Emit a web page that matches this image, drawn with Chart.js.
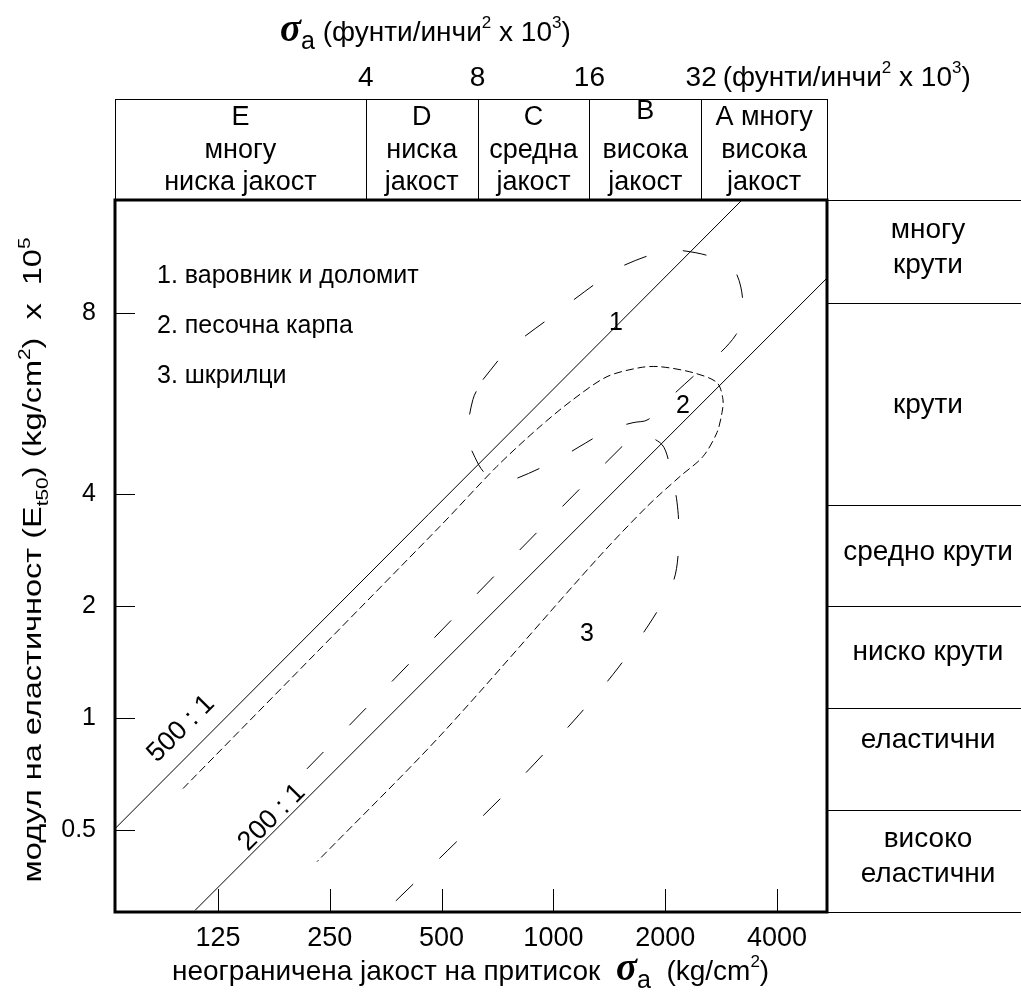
<!DOCTYPE html>
<html>
<head>
<meta charset="utf-8">
<script src="https://cdn.jsdelivr.net/npm/chart.js@4.4.1/dist/chart.umd.min.js"></script>
<style>
  html, body { margin: 0; padding: 0; background: #fff; }
  #wrap { width: 1021px; height: 996px; position: relative; }
</style>
</head>
<body>
<div id="wrap"><canvas id="myChart"></canvas></div>
<script>
// x: σa (kg/cm2), y: E_t50 (x 10^5 kg/cm2), both log scales
const xRange = [66, 5454];
const yRange = [0.303, 24.83];
const xTicks = [125, 250, 500, 1000, 2000, 4000];
const yTickPos = [0.5, 1, 2, 4, 12.34]; // the "8" label sits higher in the original figure
const yTickLabels = ["0.5", "1", "2", "4", "8"];

// modulus ratio lines
const line500x = [66, 3220];
const line500y = [0.503, 24.83];
const line200x = [108.4, 5454];
const line200y = [0.303, 15.3];

// 1. limestone & dolomite envelope (closed)
const limeX = [646, 754, 849, 1022, 1143, 1377, 1558, 1960, 2261, 2810, 3121, 3240, 3102, 2641, 2376, 1997, 1798, 1638, 1420, 1165, 1029, 798, 732, 659, 615, 589, 607, 646];
const limeY = [8.15, 9.82, 10.77, 12.34, 13.45, 15.4, 16.6, 18.0, 18.1, 17.1, 15.6, 12.34, 10.77, 9.06, 8.30, 7.07, 6.36, 6.24, 5.98, 5.35, 4.97, 4.42, 4.34, 4.53, 5.03, 5.73, 7.2, 8.15];

// 2. sandstone envelope
const sandX = [100.6, 495, 705, 920, 1129, 1394, 1711, 1936, 2376, 2757, 2862, 2844, 2757, 2529, 2192, 1787, 1311, 495, 231];
const sandY = [0.645, 3.28, 4.76, 6.09, 7.2, 8.30, 8.78, 8.83, 8.51, 8.0, 7.2, 6.64, 5.87, 5.06, 4.47, 3.71, 2.68, 0.894, 0.410];

// 3. shale envelope
const shaleX = [217, 1530, 1732, 1960, 2060, 2152, 2178, 2112, 1855, 1493, 1172, 823, 480, 341];
const shaleY = [0.729, 5.38, 5.76, 5.45, 4.76, 3.81, 3.03, 2.36, 1.857, 1.363, 1.019, 0.694, 0.407, 0.292];

// strength classes (top band), boundaries in kg/cm2
const strengthBounds = [312.5, 625, 1250, 2500];
const psiLabels = ["4", "8", "16", "32"];
const strengthClasses = [
  ["E", "многу", "ниска јакост"],
  ["D", "ниска", "јакост"],
  ["C", "средна", "јакост"],
  ["B", "висока", "јакост"],
  ["A многу", "висока", "јакост"],
];

// modulus classes (right band), boundaries in 10^5 kg/cm2
const modBounds = [13.1, 3.74, 2.0, 1.06, 0.566];
const modClasses = [["многу", "крути"], ["крути"], ["средно крути"], ["ниско крути"], ["еластични"], ["високо", "еластични"]];
const modShift = [-5, 0, -5, -6, -20, -5];

const legendItems = ["1. варовник и доломит", "2. песочна карпа", "3. шкрилци"];
const groupLabels = [{ t: "1", x: 1474, y: 11.6 }, { t: "2", x: 2234, y: 6.9 }, { t: "3", x: 1232, y: 1.68 }];
const ratioLabels = [{ t: "500 : 1", x: 99.4, y: 0.934 }, { t: "200 : 1", x: 174.7, y: 0.539 }];

const FONT = "'Liberation Sans', Arial, sans-serif";
const pts = (xs, ys) => xs.map((v, i) => ({ x: v, y: ys[i] }));

const datasets = [
  { data: pts(line500x, line500y), borderWidth: 1, tension: 0 },
  { data: pts(line200x, line200y), borderWidth: 1, tension: 0 },
  { data: pts(limeX, limeY), borderWidth: 1, tension: 0.35, borderDash: [24, 37] },
  { data: pts(sandX, sandY), borderWidth: 1, tension: 0.3, borderDash: [8, 4] },
  { data: pts(shaleX, shaleY), borderWidth: 1, tension: 0.3, borderDash: [24, 37] },
].map(d => ({ ...d, showLine: true, pointRadius: 0, borderColor: "#000", fill: false }));

function drawRich(ctx, x, y, segs, size, align) {
  const fontFor = k => {
    if (k === "sup" || k === "sub") return `${Math.round(size * 0.62)}px ${FONT}`;
    if (k === "sig") return `bold italic ${Math.round(size * 1.4)}px 'Liberation Serif', serif`;
    if (k === "idx") return `${Math.round(size * 0.9)}px ${FONT}`;
    return `${size}px ${FONT}`;
  };
  let w = 0;
  segs.forEach(([t, k]) => { ctx.font = fontFor(k); w += ctx.measureText(t).width; });
  let cx = align === "center" ? x - w / 2 : x;
  ctx.textAlign = "left";
  ctx.textBaseline = "alphabetic";
  segs.forEach(([t, k]) => {
    ctx.font = fontFor(k);
    let dy = 0;
    if (k === "sub") dy = size * 0.28;
    if (k === "sup") dy = -size * 0.45;
    if (k === "idx") dy = size * 0.3;
    ctx.fillText(t, cx, y + dy);
    cx += ctx.measureText(t).width;
  });
}

const drawPlugin = {
  id: "deereMiller",
  afterDraw(chart) {
    const { ctx, chartArea: a } = chart;
    const xs = chart.scales.x, ys = chart.scales.y;
    const W = chart.width;
    const snap = v => Math.round(v) + 0.5;
    ctx.save();
    ctx.strokeStyle = "#000";
    ctx.fillStyle = "#000";

    // inner tick marks
    ctx.lineWidth = 1;
    ctx.beginPath();
    xTicks.forEach(v => { const p = snap(xs.getPixelForValue(v)); ctx.moveTo(p, a.bottom); ctx.lineTo(p, a.bottom - 23); });
    yTickPos.forEach(v => { const p = snap(ys.getPixelForValue(v)); ctx.moveTo(a.left, p); ctx.lineTo(a.left + 20, p); });
    ctx.stroke();

    // top band with strength classes
    const bandTop = 99;
    const cols = [a.left, ...strengthBounds.map(v => xs.getPixelForValue(v)), a.right];
    ctx.beginPath();
    ctx.moveTo(a.left, bandTop + 0.5); ctx.lineTo(a.right, bandTop + 0.5);
    cols.forEach(p => { ctx.moveTo(snap(p), bandTop); ctx.lineTo(snap(p), a.top); });
    ctx.stroke();
    ctx.font = `27px ${FONT}`;
    ctx.textAlign = "center";
    ctx.textBaseline = "alphabetic";
    strengthClasses.forEach((lines, i) => {
      const cx = (cols[i] + cols[i + 1]) / 2;
      lines.forEach((s, j) => ctx.fillText(s, cx, 125 + j * 32.5 - (i === 3 && j === 0 ? 6 : 0)));
    });
    psiLabels.forEach((s, i) => {
      const p = xs.getPixelForValue(strengthBounds[i]);
      ctx.font = `28px ${FONT}`;
      ctx.textAlign = "center";
      ctx.fillText(s, p, 86);
      if (i === psiLabels.length - 1) {
        const hw = ctx.measureText(s).width / 2;
        drawRich(ctx, p + hw + 6, 86, [["(фунти/инчи", ""], ["2", "sup"], [" x 10", ""], ["3", "sup"], [")", ""]], 28, "left");
      }
    });
    drawRich(ctx, 280, 41, [["σ", "sig"], ["a", "idx"], [" (фунти/инчи", ""], ["2", "sup"], [" x 10", ""], ["3", "sup"], [")", ""]], 28, "left");

    // right band with modulus classes
    const rows = [a.top, ...modBounds.map(v => ys.getPixelForValue(v)), a.bottom];
    ctx.beginPath();
    rows.forEach(p => { ctx.moveTo(a.right, snap(p)); ctx.lineTo(W, snap(p)); });
    ctx.stroke();
    ctx.font = `28px ${FONT}`;
    ctx.textAlign = "center";
    modClasses.forEach((lines, i) => {
      const cy = (rows[i] + rows[i + 1]) / 2 + modShift[i];
      lines.forEach((s, j) => ctx.fillText(s, 928, cy + 9 + (j - (lines.length - 1) / 2) * 35));
    });

    // plot frame
    ctx.lineWidth = 3;
    ctx.strokeRect(a.left, a.top, a.right - a.left, a.bottom - a.top);

    // texts inside the plot
    ctx.font = `25px ${FONT}`;
    ctx.textAlign = "left";
    legendItems.forEach((s, i) => ctx.fillText(s, a.left + 42, 283 + i * 50));
    ctx.textAlign = "center";
    ctx.textBaseline = "middle";
    groupLabels.forEach(g => ctx.fillText(g.t, xs.getPixelForValue(g.x), ys.getPixelForValue(g.y)));
    ctx.font = `27px ${FONT}`;
    ratioLabels.forEach(g => {
      ctx.save();
      ctx.translate(xs.getPixelForValue(g.x), ys.getPixelForValue(g.y));
      ctx.rotate(-Math.PI / 4);
      ctx.fillText(g.t, 0, 0);
      ctx.restore();
    });

    // axis titles
    drawRich(ctx, 172, 980, [["неограничена јакост на притисок  ", ""], ["σ", "sig"], ["a", "idx"], ["  (kg/cm", ""], ["2", "sup"], [")", ""]], 28, "left");
    ctx.save();
    ctx.translate(41, 560);
    ctx.rotate(-Math.PI / 2);
    ctx.scale(1.3, 1);
    drawRich(ctx, 0, 0, [["модул на еластичност (E", ""], ["t50", "sub"], [") (kg/cm", ""], ["2", "sup"], [")  x  10", ""], ["5", "sup"]], 25, "center");
    ctx.restore();
    ctx.restore();
  }
};

new Chart(document.querySelector("#myChart"), {
  type: "scatter",
  data: { datasets },
  options: {
    responsive: true,
    maintainAspectRatio: false,
    animation: false,
    layout: { padding: { left: 0, right: 194, top: 200, bottom: 0 } },
    plugins: { legend: { display: false }, tooltip: { enabled: false } },
    scales: {
      x: {
        type: "logarithmic",
        min: xRange[0],
        max: xRange[1],
        grid: { display: false },
        border: { display: false },
        afterBuildTicks: s => { s.ticks = xTicks.map(v => ({ value: v })); },
        afterFit: s => { s.height = 84; },
        ticks: { autoSkip: false, maxRotation: 0, color: "#000", padding: 2, font: { size: 27, family: FONT }, callback: (v, i) => String(xTicks[i]) },
      },
      y: {
        type: "logarithmic",
        min: yRange[0],
        max: yRange[1],
        grid: { display: false },
        border: { display: false },
        afterBuildTicks: s => { s.ticks = yTickPos.map(v => ({ value: v })); },
        afterFit: s => { s.width = 115; },
        ticks: { autoSkip: false, color: "#000", padding: 11, font: { size: 25, family: FONT }, callback: (v, i) => yTickLabels[i] },
      },
    },
  },
  plugins: [drawPlugin],
});
</script>
</body>
</html>
